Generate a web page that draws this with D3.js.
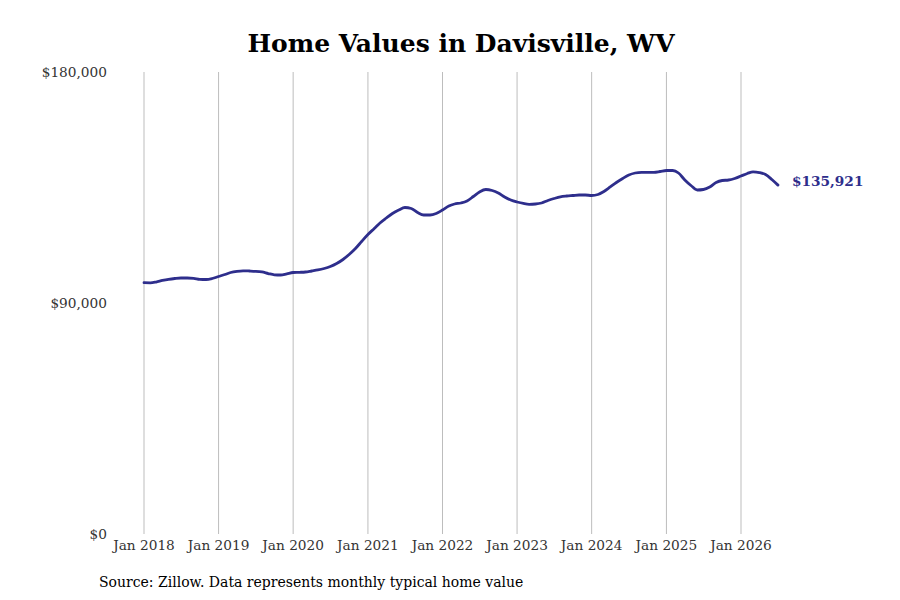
<!DOCTYPE html>
<html>
<head>
<meta charset="utf-8">
<script src="https://cdn.jsdelivr.net/npm/d3@7"></script>
<style>
  body { margin: 0; background: #fff; }
  svg { display: block; font-family: "DejaVu Serif", serif; }
</style>
</head>
<body>
<div id="chart"></div>
<script>
// monthly typical home value, Jan 2018 onward
const startMonth = "2018-01";
const values = [
    97900, 97870, 98180, 98770, 99230, 99550, 99740, 99740, 99620, 99230, 99160, 99550,
    100330, 101100, 101880, 102350, 102550, 102470, 102350, 102080, 101490, 100990, 100910, 101380,
    101880, 101960, 102080, 102470, 102860, 103440, 104220, 105390, 106950, 108900, 111230, 113960,
    116690, 119030, 121170, 123120, 124870, 126230, 127210, 126820, 125260, 124290, 124290, 124870,
    126230, 127790, 128570, 128960, 129740, 131490, 133250, 134220, 133830, 132860, 131300, 130130,
    129350, 128770, 128460, 128570, 128960, 129940, 130710, 131380, 131690, 131880, 132080, 132080,
    131880, 132270, 133440, 135200, 136950, 138510, 139870, 140650, 140920, 140920, 140920, 141230,
    141620, 141620, 140650, 137920, 135780, 134030, 134220, 135200, 136950, 137730, 137920, 138510,
    139480, 140460, 141120, 140840, 140070, 138120, 135921
];
const yTicks = [0, 90000, 180000];
const xTickYears = [2018, 2019, 2020, 2021, 2022, 2023, 2024, 2025, 2026];

const width = 900, height = 600;
const parseMonth = d3.timeParse("%Y-%m");
const start = parseMonth(startMonth);
const data = values.map((v, i) => ({ date: d3.timeMonth.offset(start, i), value: v }));

const svg = d3.select("#chart").append("svg")
    .attr("width", width)
    .attr("height", height);

const x = d3.scaleTime()
    .domain([new Date(2018, 0, 1), new Date(2026, 0, 1)])
    .range([144, 741]);

const y = d3.scaleLinear()
    .domain([0, 180000])
    .range([534, 72]);

// vertical grid lines at each January
svg.append("g").selectAll("line")
    .data(xTickYears)
    .join("line")
    .attr("x1", d => x(new Date(d, 0, 1)))
    .attr("x2", d => x(new Date(d, 0, 1)))
    .attr("y1", y(180000))
    .attr("y2", y(0))
    .attr("stroke", "#bdbdbd")
    .attr("stroke-width", 1);

// x labels
svg.append("g").selectAll("text")
    .data(xTickYears)
    .join("text")
    .attr("x", d => x(new Date(d, 0, 1)))
    .attr("y", 550)
    .attr("text-anchor", "middle")
    .attr("font-size", "13.7px")
    .attr("fill", "#333")
    .text(d => "Jan " + d);

// y labels
const fmt = d3.format(",");
svg.append("g").selectAll("text")
    .data(yTicks)
    .join("text")
    .attr("x", 107)
    .attr("y", d => y(d) + 5)
    .attr("text-anchor", "end")
    .attr("font-size", "13.7px")
    .attr("fill", "#333")
    .text(d => "$" + fmt(d));

// the line
const line = d3.line()
    .x(d => x(d.date))
    .y(d => y(d.value))
    .curve(d3.curveMonotoneX);

svg.append("path")
    .datum(data)
    .attr("d", line)
    .attr("fill", "none")
    .attr("stroke", "#2e2e8c")
    .attr("stroke-width", 2.8)
    .attr("stroke-linejoin", "round")
    .attr("stroke-linecap", "round");

// end label
const last = data[data.length - 1];
svg.append("text")
    .attr("x", x(last.date) + 14)
    .attr("y", y(last.value) + 1)
    .attr("font-size", "13.7px")
    .attr("font-weight", "bold")
    .attr("fill", "#2e2e8c")
    .text("$" + fmt(last.value));

// title
svg.append("text")
    .attr("x", 461)
    .attr("y", 52)
    .attr("text-anchor", "middle")
    .attr("font-size", "25px")
    .attr("font-weight", "bold")
    .attr("fill", "#000")
    .text("Home Values in Davisville, WV");

// source note
svg.append("text")
    .attr("x", 99)
    .attr("y", 587)
    .attr("font-size", "14px")
    .attr("fill", "#000")
    .text("Source: Zillow. Data represents monthly typical home value");
</script>
</body>
</html>
